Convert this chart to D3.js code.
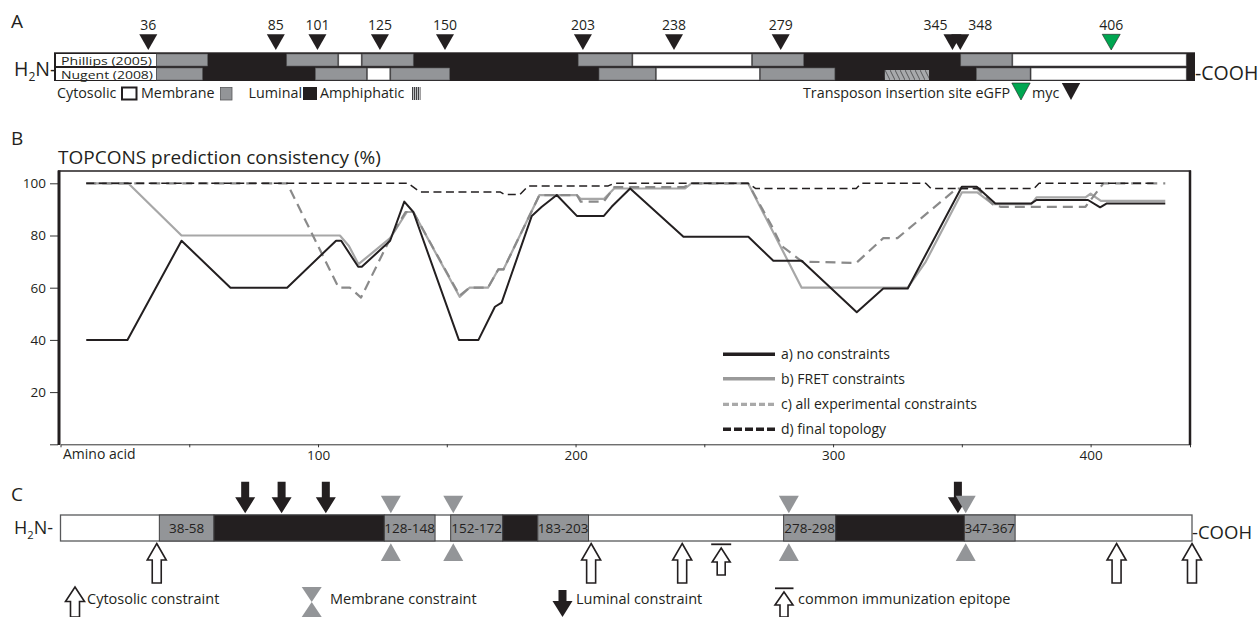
<!DOCTYPE html>
<html>
<head>
<meta charset="utf-8">
<script src="https://cdn.jsdelivr.net/npm/d3@7"></script>
<style>
  body { margin: 0; background: #fff; }
  svg { display: block; font-family: "Open Sans", "Noto Sans", sans-serif; }
  .axis text { font-family: "Open Sans", sans-serif; fill: #231f20; }
</style>
</head>
<body>
<svg id="fig" width="1259" height="617"></svg>
<script>
// ---------- data ----------
// panel A: transposon insertion sites (amino acid)
const insertionSites = [36, 85, 101, 125, 150, 203, 238, 279, 345, 348, 406];
const gfpSites = [406];

// panel A: published topologies, [start, end, type]  C=cytosolic M=membrane L=luminal
const phillipsTopo = [[39, 59, "M"], [59, 89, "L"], [89, 109, "M"], [109, 118, "C"], [118, 138, "M"],
  [138, 201, "L"], [201, 222, "M"], [222, 268, "C"], [268, 288, "M"], [288, 348, "L"],
  [348, 368, "M"], [368, 435, "C"]];
const nugentTopo = [[39, 57, "M"], [57, 100, "L"], [100, 120, "M"], [120, 129, "C"], [129, 152, "M"],
  [152, 209, "L"], [209, 231, "M"], [231, 271, "C"], [271, 300, "M"], [300, 354, "L"],
  [354, 375, "M"], [375, 435, "C"]];
const nugentAmphipathic = [[319, 336]];

// panel B: TOPCONS prediction consistency, [amino acid, %]
const noConstraints = [[10, 40], [26, 40], [47, 78], [66, 60], [88, 60], [107, 78], [109, 78], [115.6, 68],
  [117, 68], [128, 78], [133.5, 93], [137, 89], [154.7, 40], [162.3, 40], [168.7, 52.7], [171.3, 54.3],
  [183, 87.5], [186.9, 91], [192.7, 95.5], [200.5, 87.5], [211, 87.5], [214, 91], [221.2, 98],
  [241.9, 79.5], [267.1, 79.5], [276.8, 70.3], [287.8, 70.3], [309.2, 50.6], [319.5, 59.7], [329, 59.7],
  [350, 98.7], [355.8, 98.7], [363, 92.3], [377, 92.3], [379, 93.6], [399, 93.6], [403.7, 90.8],
  [406.3, 92.3], [429, 92.3]];
const fretConstraints = [[10, 100], [26.3, 100], [47, 80], [108.5, 80], [112, 76], [115.7, 69], [128, 79],
  [134.5, 89], [137, 89], [155, 56.5], [158.8, 60], [166, 60], [170, 67], [172, 67], [186, 95.5],
  [200.5, 95.5], [202, 94], [211, 94], [215, 98], [242.5, 98], [245, 100], [267, 100], [287.8, 60],
  [329, 60], [336, 70], [350, 96.5], [356, 96.5], [362, 92], [377, 92], [379, 94.6], [398, 94.6],
  [400, 96], [404, 93.3], [429, 93.3]];
const allConstraints = [[10, 100], [88, 100], [108, 60], [112.4, 60], [116.7, 56.2], [128.6, 80], [134, 89],
  [137, 89], [155, 57], [158.8, 60], [166, 60], [170, 67], [172, 67], [186, 95.5], [200.5, 95.5],
  [202, 93], [211, 93], [215, 98.5], [242, 98.5], [245, 100], [267, 100], [276, 84], [280, 76],
  [288, 70], [309, 69.5], [319.5, 79], [325, 79], [348, 98], [356, 98], [362, 92], [365, 91],
  [398, 91], [405, 100], [429, 100]];
const finalTopology = [[10, 100], [135, 100], [139.6, 96.7], [170.7, 96.7], [172.5, 95.7], [178.4, 95.7],
  [181.7, 99], [212.7, 99], [215, 100], [267, 100], [270, 98], [309, 98], [311, 100], [336, 100],
  [338, 98], [378, 98], [380, 100], [425, 100]];
const seriesNames = ["a) no constraints", "b) FRET constraints", "c) all experimental constraints", "d) final topology"];
const yTicks = [0, 20, 40, 60, 80, 100];
const xTicks = [50, 100, 150, 200, 250, 300, 350, 400];

// panel C: final topology segments (as drawn) with their labels
const finalSegments = [[0, 38, "C", ""], [38, 59, "M", "38-58"], [59, 124.5, "L", ""], [124.5, 144, "M", "128-148"],
  [144, 150, "C", ""], [150, 170, "M", "152-172"], [170, 183.5, "L", ""], [183.5, 203, "M", "183-203"],
  [203, 278, "C", ""], [278, 298, "M", "278-298"], [298, 347.5, "L", ""], [347.5, 367, "M", "347-367"],
  [367, 435, "C", ""]];
const luminalSites = [71, 85, 102, 345];
const membraneSites = [127, 151, 280, 348];
const cytosolicSites = [37, 204, 239, 406, 435];
const epitopeSites = [254];

// ---------- drawing ----------
const ink = "#231f20";
const memGray = "#939598";
const fillOf = { C: "#fff", M: memGray, L: ink };
const svg = d3.select("#fig");

const defs = svg.append("defs");
defs.append("pattern").attr("id", "diag").attr("patternUnits", "userSpaceOnUse")
  .attr("width", 5).attr("height", 10)
  .call(p => {
    p.append("rect").attr("width", 5).attr("height", 10).attr("fill", "#a7a9ac");
    p.append("line").attr("x1", 0).attr("y1", 0).attr("x2", 5).attr("y2", 10)
      .attr("stroke", "#58595b").attr("stroke-width", 1);
  });
defs.append("pattern").attr("id", "vert").attr("patternUnits", "userSpaceOnUse")
  .attr("width", 2).attr("height", 10)
  .call(p => {
    p.append("rect").attr("width", 2).attr("height", 10).attr("fill", "#bcbec0");
    p.append("rect").attr("width", 1).attr("height", 10).attr("fill", "#414042");
  });

function h2n(g, x, y, size) {
  const t = g.append("text").attr("x", x).attr("y", y).attr("font-size", size).attr("fill", ink);
  t.append("tspan").text("H");
  t.append("tspan").attr("font-size", size * 0.62).attr("dy", size * 0.3).text("2");
  t.append("tspan").attr("dy", -size * 0.3).text("N-");
}

// ===== Panel A =====
const ax = d3.scaleLinear().domain([0, 435]).range([54.6, 1186.7]);
const gA = svg.append("g");
gA.append("text").attr("x", 11).attr("y", 28).attr("font-size", 19).attr("fill", ink).text("A");

gA.append("rect").attr("x", 54).attr("y", 52.3).attr("width", 1195 - 54).attr("height", 28.7).attr("fill", ink);

const rows = [{ name: "Phillips (2005)", y: 54, data: phillipsTopo }, { name: "Nugent (2008)", y: 68, data: nugentTopo }];
rows.forEach(r => {
  gA.append("rect").attr("x", 56).attr("y", r.y).attr("width", ax(39) - 56).attr("height", 12).attr("fill", "#fff");
  gA.append("text").attr("x", 61).attr("y", r.y + 10.5).attr("font-size", 11.5).attr("fill", ink)
    .attr("textLength", r.name.startsWith("P") ? 91 : 92).attr("lengthAdjust", "spacingAndGlyphs").text(r.name);
  gA.selectAll(null).data(r.data.filter(d => d[2] !== "L")).enter().append("rect")
    .attr("x", d => ax(d[0]) + 0.5).attr("y", r.y)
    .attr("width", d => ax(d[1]) - ax(d[0]) - 1).attr("height", 12)
    .attr("fill", d => fillOf[d[2]])
    .attr("stroke", "#58595b").attr("stroke-width", 0.6);
});
gA.selectAll(null).data(nugentAmphipathic).enter().append("rect")
  .attr("x", d => ax(d[0])).attr("y", 70).attr("width", d => ax(d[1]) - ax(d[0])).attr("height", 10)
  .attr("fill", "url(#diag)");

h2n(gA, 14, 75.5, 19.5);
gA.append("text").attr("x", 1195).attr("y", 80).attr("font-size", 19.5).attr("fill", ink).text("-COOH");

const downTri = (cx, top, h, hw) => `M${cx - hw},${top}L${cx + hw},${top}L${cx},${top + h}Z`;
const upTri = (cx, tip, h, hw) => `M${cx},${tip}L${cx + hw},${tip + h}L${cx - hw},${tip + h}Z`;

gA.selectAll(null).data(insertionSites).enter().append("path")
  .attr("d", d => downTri(ax(d), 34.3, 15.7, 9))
  .attr("fill", d => gfpSites.includes(d) ? "#00a651" : ink)
  .attr("stroke", d => gfpSites.includes(d) ? ink : "none").attr("stroke-width", 0.6);
const nudge = { 345: -17, 348: 20 };
gA.selectAll(null).data(insertionSites).enter().append("text")
  .attr("x", d => ax(d) + (nudge[d] || 0)).attr("y", 30)
  .attr("text-anchor", "middle").attr("font-size", 14).attr("fill", ink).text(d => d);

// legend row of A
const legA = gA.append("g").attr("font-size", 14.3).attr("fill", ink);
legA.append("text").attr("x", 57).attr("y", 97.5).text("Cytosolic");
legA.append("rect").attr("x", 122).attr("y", 87.5).attr("width", 14.5).attr("height", 12)
  .attr("fill", "#fff").attr("stroke", ink).attr("stroke-width", 2);
legA.append("text").attr("x", 141).attr("y", 97.5).text("Membrane");
legA.append("rect").attr("x", 220.5).attr("y", 87.5).attr("width", 11.5).attr("height", 12.5)
  .attr("fill", memGray).attr("stroke", "#58595b").attr("stroke-width", 0.8);
legA.append("text").attr("x", 302).attr("y", 97.5).attr("text-anchor", "end").text("Luminal");
legA.append("rect").attr("x", 303).attr("y", 87).attr("width", 14).attr("height", 13).attr("fill", ink);
legA.append("text").attr("x", 320).attr("y", 97.5).text("Amphiphatic");
legA.append("rect").attr("x", 412).attr("y", 87).attr("width", 8.5).attr("height", 13).attr("fill", "url(#vert)");
legA.append("text").attr("x", 1010).attr("y", 97.5).attr("text-anchor", "end").text("Transposon insertion site  eGFP");
legA.append("path").attr("d", downTri(1021, 83, 17, 9.2)).attr("fill", "#00a651").attr("stroke", ink).attr("stroke-width", 0.6);
legA.append("text").attr("x", 1032).attr("y", 97.5).text("myc");
legA.append("path").attr("d", downTri(1071, 83, 17, 9.2)).attr("fill", ink);

// ===== Panel B =====
const x = d3.scaleLinear().domain([0, 438.6]).range([60.5, 1190]);
const y = d3.scaleLinear().domain([0, 100]).range([444.3, 183.3]);
const gB = svg.append("g");
gB.append("text").attr("x", 11).attr("y", 145).attr("font-size", 19).attr("fill", ink).text("B");
gB.append("text").attr("x", 58).attr("y", 164).attr("font-size", 19).attr("fill", ink)
  .text("TOPCONS prediction consistency (%)");

gB.append("g").attr("class", "axis").attr("transform", "translate(0,444.3)")
  .call(d3.axisBottom(x).tickValues(xTicks).tickSize(3).tickPadding(3)
    .tickFormat(d => d % 100 === 0 ? d : ""))
  .call(g => g.selectAll("text").attr("font-size", 13.5))
  .call(g => g.selectAll("line,path").attr("stroke", "#333"));
gB.append("g").attr("class", "axis").attr("transform", "translate(58,0)")
  .call(d3.axisLeft(y).tickValues(yTicks).tickSize(8).tickPadding(4)
    .tickFormat(d => d === 0 ? "" : d))
  .call(g => g.select(".domain").remove())
  .call(g => g.selectAll("text").attr("font-size", 13.5))
  .call(g => g.selectAll("line").attr("stroke", "#333"));

gB.append("text").attr("x", 63).attr("y", 458.5).attr("font-size", 14).attr("fill", ink).text("Amino acid");

// frame
gB.append("line").attr("x1", 58).attr("x2", 1191).attr("y1", 171).attr("y2", 171).attr("stroke", ink).attr("stroke-width", 1.4);
gB.append("line").attr("x1", 59).attr("x2", 59).attr("y1", 170.5).attr("y2", 445).attr("stroke", ink).attr("stroke-width", 3);
gB.append("line").attr("x1", 1190).attr("x2", 1190).attr("y1", 170.5).attr("y2", 445).attr("stroke", ink).attr("stroke-width", 2.5);

const line = d3.line().x(d => x(d[0])).y(d => y(d[1]));
const styles = [
  { data: fretConstraints, color: "#a7a7a7", width: 2.2, dash: null, lw: 3.5, lcolor: "#9a9a9a", ldash: null },
  { data: allConstraints, color: "#8a8a8a", width: 2.2, dash: "10,6", lw: 3.2, lcolor: "#a9a9a9", ldash: "6,3" },
  { data: noConstraints, color: ink, width: 2, dash: null, lw: 3.5, lcolor: ink, ldash: null },
  { data: finalTopology, color: ink, width: 1.5, dash: "8,4.5", lw: 3.5, lcolor: ink, ldash: "8,3" }
];
styles.forEach(s => {
  gB.append("path").attr("d", line(s.data)).attr("fill", "none")
    .attr("stroke", s.color).attr("stroke-width", s.width)
    .attr("stroke-dasharray", s.dash).attr("stroke-linejoin", "round");
});

// legend B (order a, b, c, d)
const legOrder = [styles[2], styles[0], styles[1], styles[3]];
const legY = [354.3, 378.8, 404.3, 429.3];
legOrder.forEach((s, i) => {
  gB.append("line").attr("x1", 723).attr("x2", 775).attr("y1", legY[i]).attr("y2", legY[i])
    .attr("stroke", s.lcolor).attr("stroke-width", s.lw).attr("stroke-dasharray", s.ldash);
  gB.append("text").attr("x", 781).attr("y", legY[i] + 5).attr("font-size", 14).attr("fill", ink)
    .text(seriesNames[i]);
});

// ===== Panel C =====
const cx = d3.scaleLinear().domain([0, 435]).range([60.5, 1192]);
const gC = svg.append("g");
gC.append("text").attr("x", 11).attr("y", 501).attr("font-size", 19).attr("fill", ink).text("C");
const barTop = 515, barH = 26;
gC.append("rect").attr("x", cx(0)).attr("y", barTop).attr("width", cx(435) - cx(0)).attr("height", barH)
  .attr("fill", "#fff").attr("stroke", "#58595b").attr("stroke-width", 1.3);
gC.selectAll(null).data(finalSegments.filter(d => d[2] !== "C")).enter().append("rect")
  .attr("x", d => cx(d[0])).attr("y", barTop).attr("width", d => cx(d[1]) - cx(d[0])).attr("height", barH)
  .attr("fill", d => fillOf[d[2]]).attr("stroke", "#414042").attr("stroke-width", 1);
gC.selectAll(null).data(finalSegments.filter(d => d[3])).enter().append("text")
  .attr("x", d => (cx(d[0]) + cx(d[1])) / 2).attr("y", barTop + 18)
  .attr("text-anchor", "middle").attr("font-size", 13.5).attr("fill", ink).text(d => d[3]);

h2n(gC, 14, 534, 18);
gC.append("text").attr("x", 1192).attr("y", 538.5).attr("font-size", 18.5).attr("fill", ink).text("-COOH");

function lumArrow(c, top, tip) {
  const hs = tip - 16;
  return `M${c - 4},${top}L${c + 4},${top}L${c + 4},${hs}L${c + 10},${hs}L${c},${tip}L${c - 10},${hs}L${c - 4},${hs}Z`;
}
function cytArrow(c, tip, bottom, hw, hl, sw) {
  const hb = tip + hl;
  return `M${c},${tip}L${c + hw},${hb}L${c + sw},${hb}L${c + sw},${bottom}L${c - sw},${bottom}L${c - sw},${hb}L${c - hw},${hb}Z`;
}

gC.selectAll(null).data(luminalSites).enter().append("path")
  .attr("d", d => lumArrow(cx(d), 481.7, 513.3)).attr("fill", ink);
gC.selectAll(null).data(membraneSites).enter().append("path")
  .attr("d", d => downTri(cx(d), 495.7, 17.6, 10)).attr("fill", memGray);
gC.selectAll(null).data(membraneSites).enter().append("path")
  .attr("d", d => upTri(cx(d), 543.3, 17.6, 10)).attr("fill", memGray);
gC.selectAll(null).data(cytosolicSites).enter().append("path")
  .attr("d", d => cytArrow(cx(d), 543.5, 583, 9.5, 16.5, 4.5))
  .attr("fill", "#fff").attr("stroke", ink).attr("stroke-width", 1.6);
gC.selectAll(null).data(epitopeSites).enter().append("path")
  .attr("d", d => cytArrow(cx(d), 548, 575, 9, 14, 4))
  .attr("fill", "#fff").attr("stroke", ink).attr("stroke-width", 1.6);
gC.selectAll(null).data(epitopeSites).enter().append("line")
  .attr("x1", d => cx(d) - 10).attr("x2", d => cx(d) + 10).attr("y1", 544.3).attr("y2", 544.3)
  .attr("stroke", ink).attr("stroke-width", 1.8);

// legend C
const legC = gC.append("g").attr("font-size", 14.5).attr("fill", ink);
legC.append("path").attr("d", cytArrow(75, 587, 617, 9.5, 14.5, 4.5)).attr("fill", "#fff").attr("stroke", ink).attr("stroke-width", 1.6);
legC.append("text").attr("x", 87).attr("y", 604).text("Cytosolic constraint");
legC.append("path").attr("d", downTri(311.7, 587, 15, 10)).attr("fill", memGray);
legC.append("path").attr("d", upTri(311.7, 602, 15, 10)).attr("fill", memGray);
legC.append("text").attr("x", 330).attr("y", 604).text("Membrane constraint");
legC.append("path").attr("d", lumArrow(562.5, 590, 617)).attr("fill", ink);
legC.append("text").attr("x", 576).attr("y", 604).text("Luminal constraint");
legC.append("line").attr("x1", 775).attr("x2", 793.5).attr("y1", 588.3).attr("y2", 588.3).attr("stroke", ink).attr("stroke-width", 1.8);
legC.append("path").attr("d", cytArrow(784, 592, 617, 9, 13, 4)).attr("fill", "#fff").attr("stroke", ink).attr("stroke-width", 1.6);
legC.append("text").attr("x", 798).attr("y", 604).text("common immunization epitope");
</script>
</body>
</html>
